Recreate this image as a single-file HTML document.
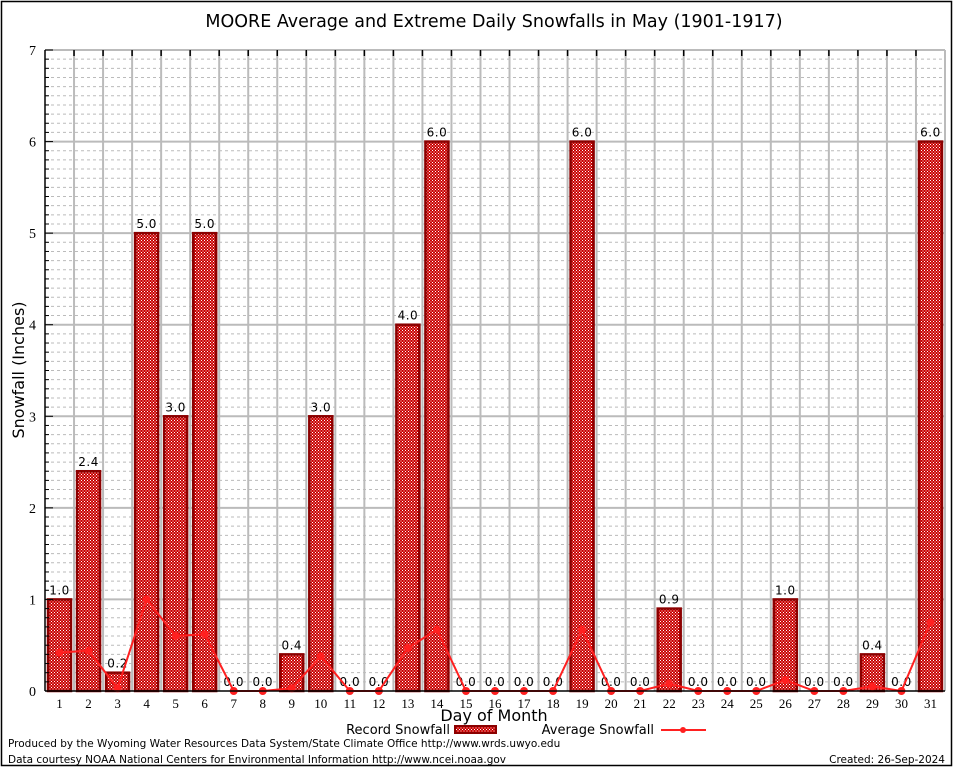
<!DOCTYPE html>
<html><head><meta charset="utf-8"><style>
html,body{margin:0;padding:0;background:#fff}
svg{display:block}
</style></head><body>
<svg id="chart" width="954" height="768" xmlns="http://www.w3.org/2000/svg" font-family="DejaVu Sans, Liberation Sans, sans-serif">
<defs>
<pattern id="hatch" width="3" height="3" patternUnits="userSpaceOnUse">
<rect width="3" height="3" fill="#c80000"/>
<rect width="1" height="1" fill="#fff"/>
<rect x="1.5" y="1.5" width="1" height="1" fill="#fff"/>
</pattern>
</defs>
<rect x="1.5" y="1.5" width="950" height="764" fill="none" stroke="#000" stroke-width="1.5"/>
<text x="494" y="27" font-size="17.5" text-anchor="middle">MOORE Average and Extreme Daily Snowfalls in May (1901-1917)</text>
<g id="grid"></g>
<g id="bars"></g>
<g id="line"></g>
<g id="axes"></g>
<text transform="translate(24,370) rotate(-90)" font-size="16" text-anchor="middle">Snowfall (Inches)</text>
<text x="494" y="721" font-size="16" text-anchor="middle">Day of Month</text>
<g>
<text x="450" y="734" font-size="13" text-anchor="end">Record Snowfall</text>
<rect x="455" y="726" width="41" height="7" fill="url(#hatch)" stroke="#8b0000" stroke-width="2"/>
<text x="654" y="734" font-size="13" text-anchor="end">Average Snowfall</text>
<line x1="661" y1="730" x2="706" y2="730" stroke="#ff2020" stroke-width="2"/>
<circle cx="683" cy="730" r="3" fill="#ff2020"/>
</g>
<text x="8" y="747" font-size="10.5">Produced by the Wyoming Water Resources Data System/State Climate Office http://www.wrds.uwyo.edu</text>
<text x="8" y="763" font-size="10.5">Data courtesy NOAA National Centers for Environmental Information http://www.ncei.noaa.gov</text>
<text x="945" y="763" font-size="10.5" text-anchor="end">Created: 26-Sep-2024</text>
</svg>
<script>
const days = [1,2,3,4,5,6,7,8,9,10,11,12,13,14,15,16,17,18,19,20,21,22,23,24,25,26,27,28,29,30,31];
const recordSnow = [1.0,2.4,0.2,5.0,3.0,5.0,0,0,0.4,3.0,0,0,4.0,6.0,0,0,0,0,6.0,0,0,0.9,0,0,0,1.0,0,0,0.4,0,6.0];
const avgSnow = [0.42,0.44,0.03,1.0,0.6,0.62,0,0,0.03,0.38,0,0,0.47,0.67,0,0,0,0,0.67,0,0,0.08,0,0,0,0.12,0,0,0.05,0,0.75];
const yTicks = [0,1,2,3,4,5,6,7];

const NS = "http://www.w3.org/2000/svg";
const L = 45, R = 945, T = 50, B = 691, YMAX = 7;
const dayW = (R - L) / days.length;
const xC = i => L + dayW * (i + 0.5);
const y = v => B - (v / YMAX) * (B - T);
function mk(tag, attrs, parent) {
  const e = document.createElementNS(NS, tag);
  for (const k in attrs) e.setAttribute(k, attrs[k]);
  parent.appendChild(e);
  return e;
}
const grid = document.getElementById('grid');
const axes = document.getElementById('axes');
const barsG = document.getElementById('bars');
const lineG = document.getElementById('line');

for (let k = 1; k < YMAX * 10; k++) {
  if (k % 10 === 0) continue;
  const g = mk('line', {x1: L, x2: R, y1: y(k / 10), y2: y(k / 10), stroke: '#bbb', 'stroke-width': 1, 'stroke-dasharray': '3,3'}, grid);
  
  
}
yTicks.forEach(t => {
  if (t > 0) {
    const g = mk('line', {x1: L, x2: R, y1: y(t), y2: y(t), stroke: '#bbb', 'stroke-width': 2}, grid);
    
    
  }
  const tk = mk('line', {x1: L, x2: L + 8, y1: y(t), y2: y(t), stroke: '#000', 'stroke-width': 1}, axes);
  
  
  const tl = mk('text', {x: 36, y: y(t) + 5, 'font-size': 14, 'text-anchor': 'end', 'font-family': 'Liberation Serif, serif'}, axes);
  tl.textContent = t;
  
  
});
for (let k = 1; k < YMAX * 10; k++) {
  if (k % 10 === 0) continue;
  mk('line', {x1: L, x2: L + 4, y1: y(k / 10), y2: y(k / 10), stroke: '#000', 'stroke-width': 1}, axes);
}
for (let i = 1; i < days.length; i++) {
  const x = L + dayW * i;
  const g = mk('line', {x1: x, x2: x, y1: T, y2: B, stroke: '#bbb', 'stroke-width': 2}, grid);
  
  
  mk('line', {x1: x, x2: x, y1: T, y2: T + 6, stroke: '#000', 'stroke-width': 1.5}, axes);
}
mk('line', {x1: L, x2: R, y1: T, y2: T, stroke: '#bbb', 'stroke-width': 2}, grid);
mk('line', {x1: R, x2: R, y1: T, y2: B, stroke: '#bbb', 'stroke-width': 2}, grid);
const ya = mk('line', {x1: L, x2: L, y1: T, y2: B, stroke: '#000', 'stroke-width': 1.5}, axes);


const xa = mk('line', {x1: L, x2: R, y1: B, y2: B, stroke: '#000', 'stroke-width': 1.5}, axes);



days.forEach((d, i) => {
  const xl = mk('text', {x: xC(i), y: B + 17, 'font-size': 13, 'text-anchor': 'middle', 'font-family': 'Liberation Serif, serif'}, axes);
  xl.textContent = d;
  
  
  const v = recordSnow[i];
  if (v > 0) {
    const b = mk('rect', {x: xC(i) - 11.5, y: y(v), width: 23, height: B - y(v), fill: 'url(#hatch)', stroke: '#8b0000', 'stroke-width': 2.5}, barsG);
    
    
  }
  const lab = mk('text', {x: xC(i), y: y(v) - 5, 'font-size': 12, 'text-anchor': 'middle', 'letter-spacing': '0.5'}, barsG);
  lab.textContent = v.toFixed(1);
  
  
});
const pts = avgSnow.map((v, i) => xC(i) + ',' + y(v)).join(' ');
const pl = mk('polyline', {points: pts, fill: 'none', stroke: '#ff2020', 'stroke-width': 2}, lineG);


avgSnow.forEach((v, i) => {
  const c = mk('circle', {cx: xC(i), cy: y(v), r: 4, fill: '#ff2020'}, lineG);
  
  
});
</script>
</body></html>
